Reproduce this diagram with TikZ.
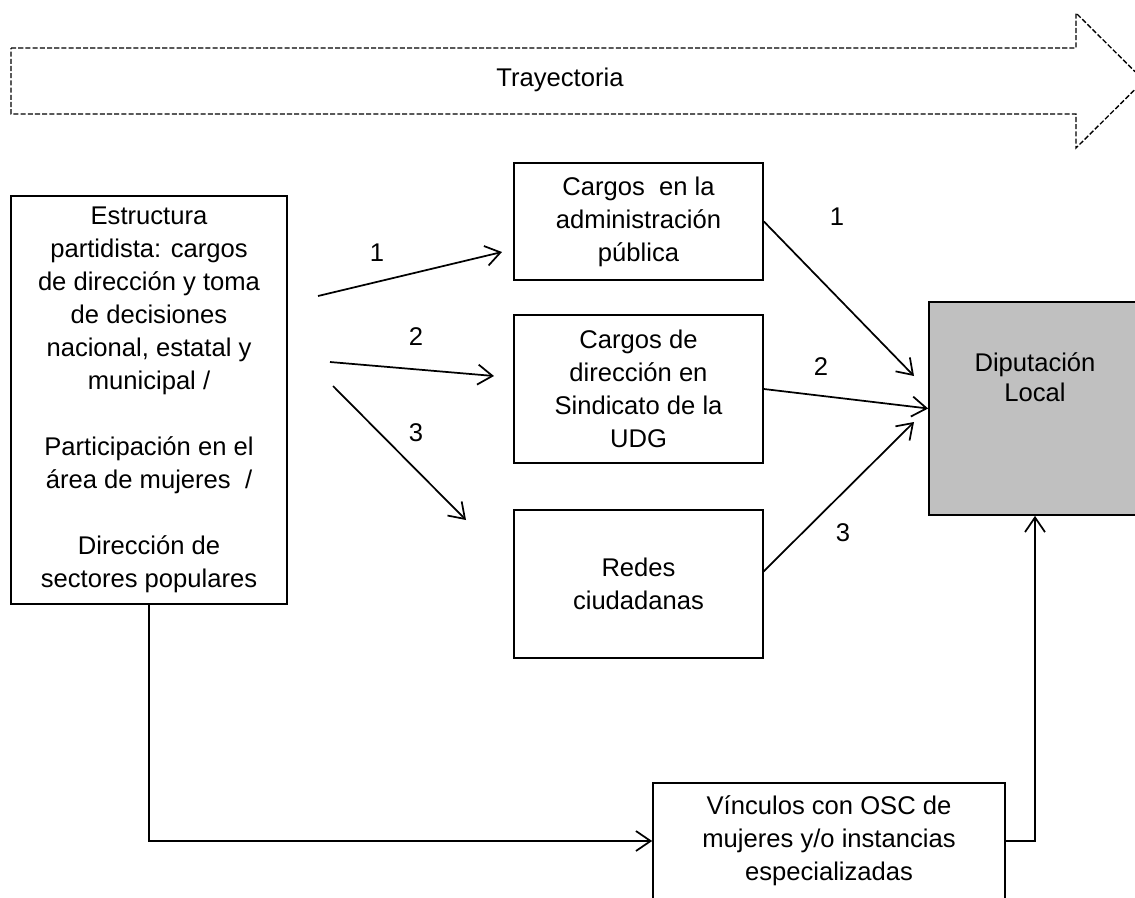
\documentclass[tikz,border=0pt]{standalone}
\usepackage{fontspec}
\setmainfont{Liberation Sans}
\usetikzlibrary{arrows.meta,calc}
\newcommand\dfont{\fontsize{19.2}{24.75}\selectfont}
\tikzset{
  box/.style={draw=black, line width=1.3pt, inner sep=0pt, align=center, font=\dfont},
  lbl/.style={font=\dfont, inner sep=0pt},
  conn/.style={line width=1.3pt, -{Straight Barb[length=11pt,width=15pt,line width=1.3pt]}},
  trayec/.style={draw=black, line width=1pt, dash pattern=on 3.8pt off 1.6pt, line join=miter}
}
\begin{document}
\begin{tikzpicture}[x=0.75pt,y=-0.75pt]
\path[use as bounding box, clip] (0,0) rectangle (1135,897);
\fill[white] (0,0) rectangle (1135,897);

% top trajectory arrow
\draw[trayec] (11,48) -- (1076,48) -- (1076,13) -- (1144,80.5) -- (1076,148) -- (1076,114) -- (11,114) -- cycle;
\node[lbl] (tray) at (560,80) {Trayectoria};

% boxes
\node[box, minimum width=207pt, minimum height=306pt] (L) at (149,400)
  {Estructura\\partidista: cargos\\de dirección y toma\\de decisiones\\nacional, estatal y\\municipal /\\[24.75pt]Participación en el\\área de mujeres~ /\\[24.75pt]Dirección de\\sectores populares};
\node[box, minimum width=186.75pt, minimum height=87.75pt] (C1) at (638.5,221.5)
  {Cargos~ en la\\administración\\pública};
\node[box, minimum width=186.75pt, minimum height=111pt] (C2) at (638.5,389)
  {Cargos de\\dirección en\\Sindicato de la\\UDG};
\node[box, minimum width=186.75pt, minimum height=111pt] (C3) at (638.5,584)
  {Redes\\ciudadanas};
\node[box, fill={rgb,255:red,192;green,192;blue,192}, minimum width=159pt, minimum height=159.75pt] (D) at (1035,408.5) {};
\node[lbl, align=center, font=\fontsize{19.2}{22.5}\selectfont] (Dt) at (1035,377) {Diputación\\Local};
\node[box, minimum width=264pt, minimum height=87pt] (V) at (829,841)
  {Vínculos con OSC de\\mujeres y/o instancias\\especializadas};

% left fan arrows
\coordinate (s1) at (318,296);
\coordinate (e1) at (502,252);
\coordinate (s2) at (330,362);
\coordinate (e2) at (494,376);
\coordinate (s3) at (333,386);
\coordinate (e3) at (466,520);
\draw[conn] (s1) -- (e1);
\draw[conn] (s2) -- (e2);
\draw[conn] (s3) -- (e3);
\node[lbl] (n1a) at (377,253) {1};
\node[lbl] (n2a) at (416,337) {2};
\node[lbl] (n3a) at (416,433) {3};

% right converging arrows
\coordinate (r1) at (914,376);
\coordinate (r3) at (914,422);
\coordinate (c3s) at (763,572);
\draw[conn] (C1.east) -- (r1);
\draw[conn] (C2.east) -- (D.west);
\draw[conn] (c3s) -- (r3);
\node[lbl] (n1b) at (837,217) {1};
\node[lbl] (n2b) at (821,367) {2};
\node[lbl] (n3b) at (843,533) {3};

% bottom connections
\draw[conn] (L.south) |- (V.west);
\draw[conn] (V.east) -| (D.south);
\end{tikzpicture}
\end{document}
